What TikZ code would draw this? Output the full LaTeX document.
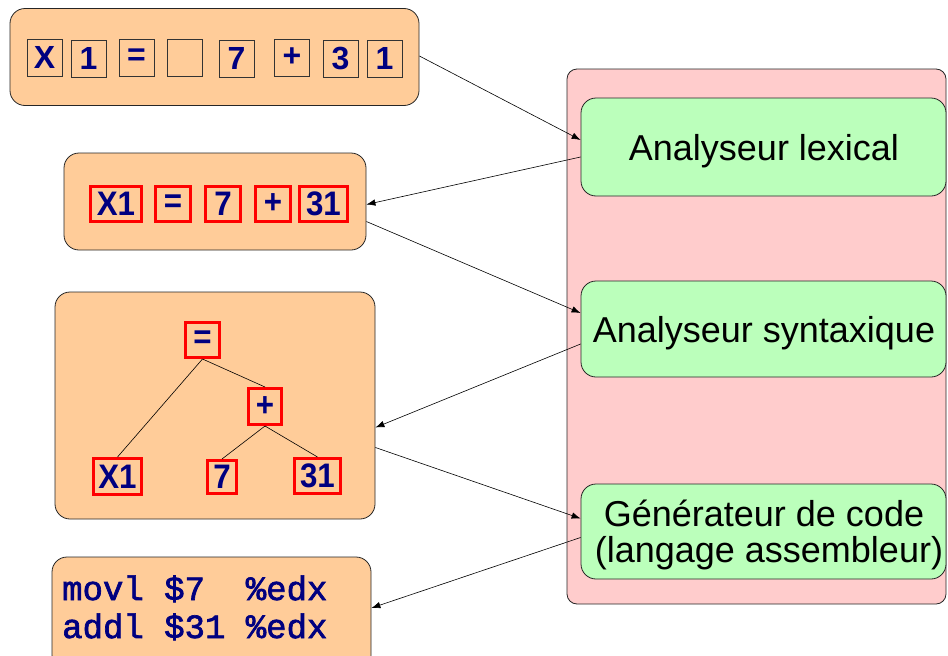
\documentclass[tikz,border=0pt]{standalone}
\usepackage{fontspec}
\setmainfont{Liberation Sans}
\newfontfamily\stsans{Liberation Sans}
\newfontfamily\cdsans[FakeStretch=0.92]{Liberation Sans}
\newfontfamily\stmono[FakeBold=2]{Liberation Mono}
\definecolor{peach}{RGB}{255,204,153}
\definecolor{pinkbg}{RGB}{255,204,204}
\definecolor{greenbg}{RGB}{187,255,187}
\definecolor{navyt}{RGB}{0,0,128}
\usetikzlibrary{arrows.meta}
\tikzset{
  panel/.style={draw=black!85, line width=0.8pt, fill=peach, rounded corners=15pt, inner sep=0pt},
  stage/.style={draw=black!85, line width=0.8pt, fill=greenbg, rounded corners=15pt, inner sep=0pt},
  stagetext/.style={font=\stsans\fontsize{36}{36.5}\selectfont, anchor=base, inner sep=0pt},
  tok/.style={draw=black!80, line width=0.8pt, inner sep=0pt, minimum width=35pt, minimum height=37pt,
    text=navyt, font=\stsans\bfseries\fontsize{32}{32}\selectfont},
  lexeme/.style={draw=red, line width=3pt, inner sep=0pt, minimum height=35pt,
    text=navyt, font=\cdsans\bfseries\fontsize{34}{34}\selectfont},
  code/.style={inner sep=0pt, anchor=base west, text=navyt, font=\stmono\fontsize{34}{36}\selectfont},
  flow/.style={draw=black, line width=0.6pt, -{Latex[length=9pt,width=6.5pt]}},
  edge/.style={draw=black, line width=0.6pt}
}
\begin{document}
\begin{tikzpicture}[x=1pt,y=-1pt]
\useasboundingbox (0,0) rectangle (948,656);
% right container
\node[draw=black!85, line width=0.8pt, fill=pinkbg, rounded corners=10pt, minimum width=379pt, minimum height=535pt, inner sep=0pt] (proc) at (756.5,336.5) {};
\node[stage, minimum width=365pt, minimum height=98pt] (lex) at (763.5,147) {};
\node[stage, minimum width=365pt, minimum height=96pt] (syn) at (763.5,329) {};
\node[stage, minimum width=365pt, minimum height=95pt] (gen) at (763.5,531.5) {};
\node[stagetext] (lext) at (764,160) {Analyseur lexical};
\node[stagetext] (synt) at (764,342) {Analyseur syntaxique};
\node[stagetext] (gent1) at (764,526) {Générateur de code};
\node[stagetext] (gent2) at (769,562.5) {(langage assembleur)};
% box 1
\node[panel, minimum width=409pt, minimum height=97pt] (b1) at (214.5,57) {};
\node[tok] (c1) at (44.5,57.5) {X};
\node[tok] (c2) at (88.5,58.5) {1};
\node[tok] (c3) at (136.5,57.5) {=};
\node[tok] (c4) at (184.5,57.5) {};
\node[tok] (c5) at (236.5,58.5) {7};
\node[tok] (c6) at (292,57.5) {+};
\node[tok] (c7) at (340.5,58.5) {3};
\node[tok] (c8) at (384.5,58.5) {1};
% box 2
\node[panel, minimum width=302pt, minimum height=97pt] (b2) at (215,201.5) {};
\node[lexeme, minimum width=51pt] (t1) at (116,204) {X1};
\node[lexeme, minimum width=35pt] (t2) at (173,204) {=};
\node[lexeme, minimum width=35pt] (t3) at (223,204) {7};
\node[lexeme, minimum width=35pt] (t4) at (273,204) {+};
\node[lexeme, minimum width=48pt] (t5) at (323.5,204) {31};
% box 3 (tree)
\node[panel, minimum width=320pt, minimum height=227pt] (b3) at (215,405.5) {};
\node[lexeme, minimum width=34pt] (eq) at (202.5,340) {=};
\node[lexeme, minimum width=33pt, minimum height=36pt] (pl) at (265,406.5) {+};
\node[lexeme, minimum width=48pt, minimum height=36pt] (x1) at (117.5,476.5) {X1};
\node[lexeme, minimum width=29pt, minimum height=33pt] (sv) at (222,477) {7};
\node[lexeme, minimum width=46pt] (tt) at (317.5,476) {31};
\draw[edge] (eq.south) -- (x1.north);
\draw[edge] (eq.south) -- (pl.north);
\draw[edge] (pl.south) -- (sv.north);
\draw[edge] (pl.south) -- (tt.north);
% box 4
\node[panel, minimum width=319pt, minimum height=113pt] (b4) at (211.5,613.5) {};
\node[code] (l1) at (62,600) {movl \$7\ \ \%edx};
\node[code] (l2) at (62,638) {addl \$31 \%edx};
% flow arrows
\draw[flow] ([yshift=1pt]b1.east) -- ([yshift=7pt]lex.west);
\draw[flow] ([yshift=-10pt]lex.west) -- ([yshift=-3pt]b2.east);
\draw[flow] ([yshift=-20pt]b2.east) -- ([yshift=16pt]syn.west);
\draw[flow] ([yshift=-15pt]syn.west) -- ([yshift=-22pt]b3.east);
\draw[flow] ([yshift=-42pt]b3.east) -- ([yshift=13pt]gen.west);
\draw[flow] ([yshift=-6pt]gen.west) -- ([yshift=5.5pt]b4.east);
\end{tikzpicture}
\end{document}
